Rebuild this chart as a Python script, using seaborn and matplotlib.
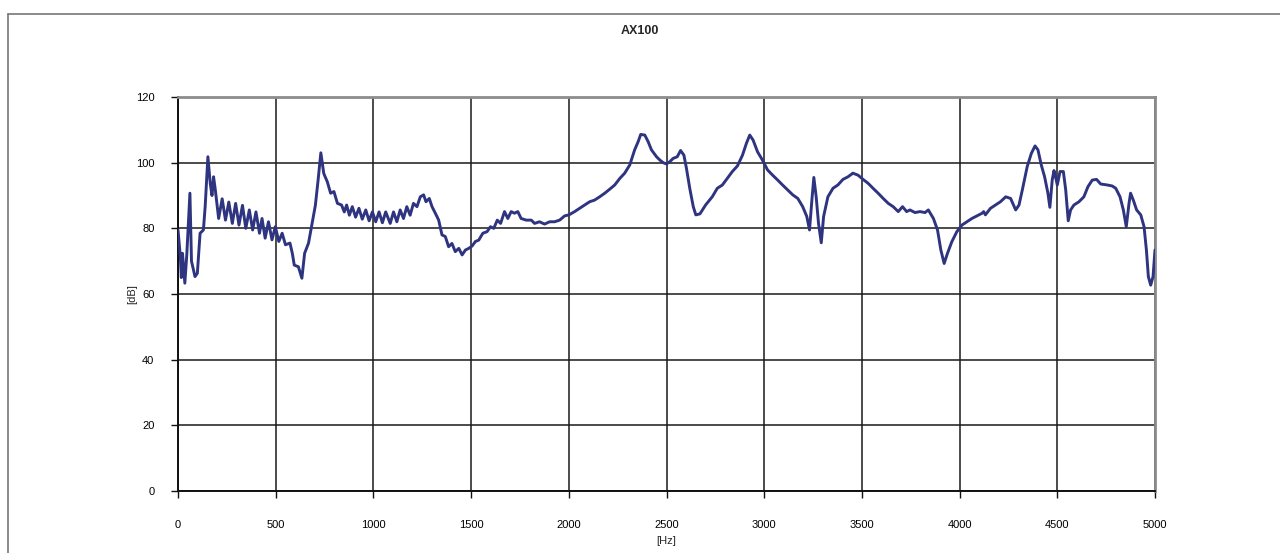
import numpy as np
import pandas as pd
import matplotlib
matplotlib.use("Agg")
import matplotlib.pyplot as plt
from matplotlib.lines import Line2D
import seaborn as sns

# frequency response
freq_hz = [0, 12, 17, 23, 35, 45, 61, 69, 87, 99, 113, 130, 139, 153, 165, 174, 182, 191,
           208, 226, 243, 260, 278, 295, 312, 330, 347, 365, 382, 399, 417, 430, 446, 463,
           481, 498, 516, 533, 550, 573, 585, 595, 616, 634, 648, 668, 686, 703, 717, 731,
           746, 764, 781, 798, 816, 837, 851, 863, 877, 892, 909, 926, 943, 961, 978, 995,
           1012, 1029, 1046, 1063, 1086, 1103, 1120, 1137, 1154, 1171, 1188, 1205, 1223,
           1240, 1257, 1269, 1286, 1300, 1322, 1334, 1351, 1368, 1385, 1402, 1419, 1437,
           1454, 1471, 1488, 1505, 1522, 1539, 1560, 1582, 1599, 1616, 1634, 1651, 1671,
           1688, 1705, 1722, 1739, 1756, 1782, 1808, 1825, 1850, 1876, 1902, 1927, 1953,
           1979, 2001, 2030, 2055, 2081, 2107, 2132, 2158, 2184, 2209, 2235, 2261, 2286,
           2312, 2337, 2355, 2368, 2389, 2406, 2423, 2449, 2466, 2483, 2500, 2517, 2534,
           2555, 2572, 2589, 2602, 2619, 2637, 2650, 2671, 2700, 2734, 2760, 2786, 2811,
           2837, 2863, 2889, 2909, 2926, 2943, 2966, 2991, 3017, 3043, 3069, 3094, 3120,
           3146, 3172, 3197, 3218, 3232, 3244, 3254, 3266, 3278, 3292, 3304, 3326, 3352,
           3377, 3403, 3429, 3454, 3480, 3506, 3532, 3557, 3583, 3609, 3635, 3660, 3686,
           3708, 3729, 3746, 3772, 3797, 3823, 3840, 3866, 3887, 3904, 3921, 3938, 3960,
           3986, 4012, 4038, 4063, 4089, 4115, 4123, 4132, 4158, 4183, 4209, 4236, 4261,
           4287, 4304, 4321, 4346, 4367, 4386, 4401, 4418, 4435, 4452, 4462, 4474, 4483,
           4491, 4500, 4514, 4531, 4543, 4556, 4568, 4585, 4611, 4636, 4657, 4679, 4701,
           4722, 4756, 4781, 4799, 4821, 4838, 4853, 4867, 4875, 4889, 4906, 4927, 4944,
           4956, 4966, 4978, 4990, 5000]
level_db = [79.5, 71.4, 65, 72.4, 63.3, 72, 90.7, 70, 65.3, 66.3, 78.5, 79.5, 86.6, 101.8,
            93.7, 90, 95.7, 91.7, 83, 89, 82.5, 88, 81.5, 87.6, 81, 87, 80, 85.6, 79.5, 85,
            78.5, 83, 77, 82, 76.5, 80.5, 76, 78.5, 75, 75.5, 72.4, 68.8, 68.3, 64.8, 72.4,
            75.5, 81.5, 87, 94.7, 103, 96.7, 94.2, 90.7, 91.2, 87.6, 87.1, 85, 87.1, 84,
            86.6, 83.4, 86.1, 82.8, 85.6, 82.3, 85, 82, 85, 81.7, 85, 81.5, 85, 82, 85.6,
            83, 86.6, 84, 87.6, 86.6, 89.6, 90.2, 88.1, 89.1, 86.6, 84, 82.5, 78, 77.5,
            74.4, 75.4, 72.9, 73.9, 71.9, 73.4, 73.9, 74.6, 76, 76.4, 78.5, 79, 80.5, 80,
            82.5, 81.5, 85.1, 83, 85.1, 84.6, 85.1, 83, 82.5, 82.5, 81.5, 82, 81.3, 82, 82,
            82.5, 83.8, 84.1, 85.1, 86.1, 87.1, 88.1, 88.6, 89.6, 90.7, 91.9, 93.2, 95.2,
            96.8, 99.3, 103.9, 106.4, 108.6, 108.4, 106.4, 103.9, 101.8, 100.8, 100, 99.6,
            100.3, 101.3, 101.8, 103.7, 102.3, 98.3, 92.2, 86.6, 84.1, 84.4, 87.1, 89.6,
            92.2, 93.2, 95.2, 97.3, 99, 102.3, 105.9, 108.4, 106.9, 103.3, 100.8, 97.8,
            96.2, 94.7, 93.2, 91.7, 90.2, 89.1, 86.6, 83.6, 79.5, 88.6, 95.5, 89.6, 81.5,
            75.6, 83.6, 89.6, 92.2, 93.2, 94.9, 95.7, 96.8, 96.2, 94.9, 93.7, 92.2, 90.7,
            89.1, 87.6, 86.6, 85.1, 86.6, 85.1, 85.6, 84.8, 85.1, 84.8, 85.6, 83, 79.5,
            73.4, 69.3, 72.4, 75.9, 79, 81, 82, 83, 83.8, 84.6, 85.1, 84.1, 86.1, 87.1,
            88.1, 89.6, 89.1, 85.6, 87.1, 91.7, 98.8, 102.8, 105.1, 103.9, 99.3, 95.7, 90.7,
            86.4, 94.7, 97.6, 95.7, 93.2, 97.3, 97.3, 91.7, 82.3, 85.6, 87.1, 88.1, 89.6,
            92.7, 94.7, 94.9, 93.5, 93.2, 92.9, 92.2, 89.6, 85.6, 80.5, 87.6, 90.7, 88.6,
            85.6, 84.1, 80.5, 73.4, 65.3, 62.7, 65.3, 73.4]

x_ticks = [0, 500, 1000, 1500, 2000, 2500, 3000, 3500, 4000, 4500, 5000]
y_ticks = [0, 20, 40, 60, 80, 100, 120]

df = pd.DataFrame({"Hz": freq_hz, "dB": level_db})

sns.set_style("white")
plt.rcParams['font.family'] = ['Liberation Sans', 'DejaVu Sans']

fig = plt.figure(figsize=(12.8, 5.53), dpi=100)
ax = fig.add_axes([178 / 1280, 1 - 491 / 553, (1155 - 178) / 1280, (491 - 97) / 553])

sns.lineplot(data=df, x="Hz", y="dB", ax=ax, color="#2e3480", linewidth=2.1,
             estimator=None, sort=False, zorder=3,
             solid_joinstyle="round", solid_capstyle="round")

ax.set_xlim(0, 5000)
ax.set_ylim(0, 120)
ax.set_xticks(x_ticks)
ax.set_yticks(y_ticks)
ax.grid(True, color="#1a1a1a", linewidth=1.1)
ax.set_axisbelow(True)

for side in ["left", "bottom"]:
    ax.spines[side].set_color("#111111")
    ax.spines[side].set_linewidth(1.4)
for side in ["top", "right"]:
    ax.spines[side].set_color("#8c8c8c")
    ax.spines[side].set_linewidth(2)

ax.tick_params(axis="both", direction="out", length=5, width=1, color="#111111",
               labelsize=8, labelcolor="black", bottom=True, left=True)
ax.tick_params(axis="x", pad=16)
ax.tick_params(axis="y", pad=12)

ax.set_xlabel("[Hz]", fontsize=8, labelpad=4)
ax.set_ylabel("[dB]", fontsize=8, labelpad=-1)

fig.text(0.5, 1 - 31 / 553, "AX100", ha="center", va="center", fontsize=9, fontweight="bold")

# outer frame (top and left edges only)
fig.add_artist(Line2D([8 / 1280, 1], [1 - 14 / 553, 1 - 14 / 553], transform=fig.transFigure,
                      color="#777777", linewidth=1.2))
fig.add_artist(Line2D([8 / 1280, 8 / 1280], [0, 1 - 14 / 553], transform=fig.transFigure,
                      color="#777777", linewidth=1.2))

plt.savefig("out.png", dpi=100)
plt.close()
